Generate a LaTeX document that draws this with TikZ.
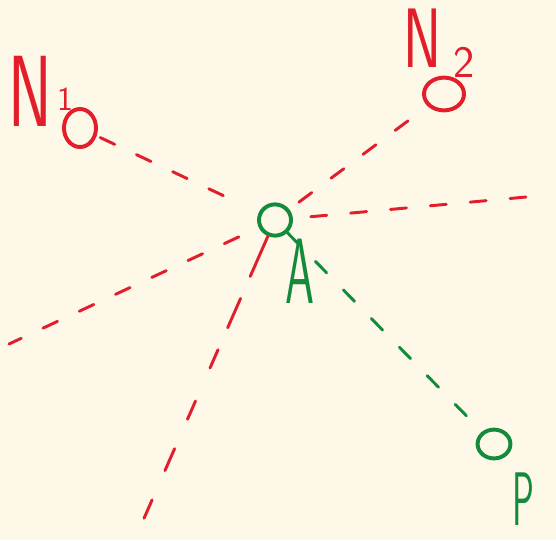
\documentclass[tikz,border=0pt]{standalone}
\usepackage{tikz}
\usetikzlibrary{shapes.geometric,positioning}
\definecolor{paper}{HTML}{FEF8E8}
\definecolor{pen red}{HTML}{E31E2B}
\definecolor{pen green}{HTML}{138A3C}

\begin{document}
\begin{tikzpicture}[x = 0.025cm, y = -0.025cm,
  ring/.style = {ellipse, draw, line width = 2.8pt, inner sep = 0pt},
  redring/.style = {ring, pen red},
  greenring/.style = {ring, pen green},
  ray/.style = {line width = 2.1pt, line cap = round, dash pattern = on 0.4cm off 0.6cm},
  hand/.style = {inner sep = 0pt, anchor = base west, text depth = 0pt, font = \sffamily}]
\fill[paper] (0,0) rectangle (556,540);
\useasboundingbox (0,0) rectangle (556,540);
% points
\node[redring, minimum width = 0.8cm, minimum height = 0.95cm] (N1) at (80,128) {};
\node[redring, minimum width = 1.0cm, minimum height = 0.82cm] (N2) at (444,94) {};
\node[greenring, minimum width = 0.8cm, minimum height = 0.78cm] (A) at (275,220) {};
\node[greenring, minimum width = 0.82cm, minimum height = 0.72cm] (P) at (494,444) {};
\coordinate (E) at (548,195);
\coordinate (SW) at (9,344);
\coordinate (S) at (138,532);
% labels
\node[hand, pen red] (N1 label) at (8,126) {\fontsize{72}{72}\selectfont\scalebox{0.65}[1]{N}\hspace{0.14cm}\raisebox{0.4cm}{\fontsize{24}{24}\selectfont 1}};
\node[hand, pen red] (N2 label) at (403,67) {\fontsize{60}{60}\selectfont\scalebox{0.68}[1]{N}\hspace{0.3cm}\raisebox{-0.25cm}{\fontsize{32}{32}\selectfont 2}};
\node[hand, pen green] (A label) at (285,303) {\fontsize{66}{66}\selectfont\scalebox{0.5}[1]{A}};
\node[hand, pen green] (P label) at (512,525) {\fontsize{54}{54}\selectfont\scalebox{0.48}[1]{P}};
% rays
\draw[ray, pen red, shorten < = 0.1cm, shorten > = 0.75cm] (N1) -- (A);
\draw[ray, pen red, shorten < = 0.3cm, shorten > = 0.4cm] (A) -- (N2);
\draw[ray, pen red, shorten < = 0.45cm] (A) -- (E);
\draw[ray, pen red, shorten < = 0.55cm] (A) -- (SW);
\draw[ray, pen red, dash pattern = on 1.1cm off 0.6cm on 0.8cm off 0.6cm on 0.5cm off 0.9cm on 0.5cm off 0.8cm on 0.6cm off 0.8cm on 0.5cm off 0.8cm] (A) -- (S);
\draw[ray, pen green, shorten > = 0.3cm] (A) -- (P);
\end{tikzpicture}
\end{document}
